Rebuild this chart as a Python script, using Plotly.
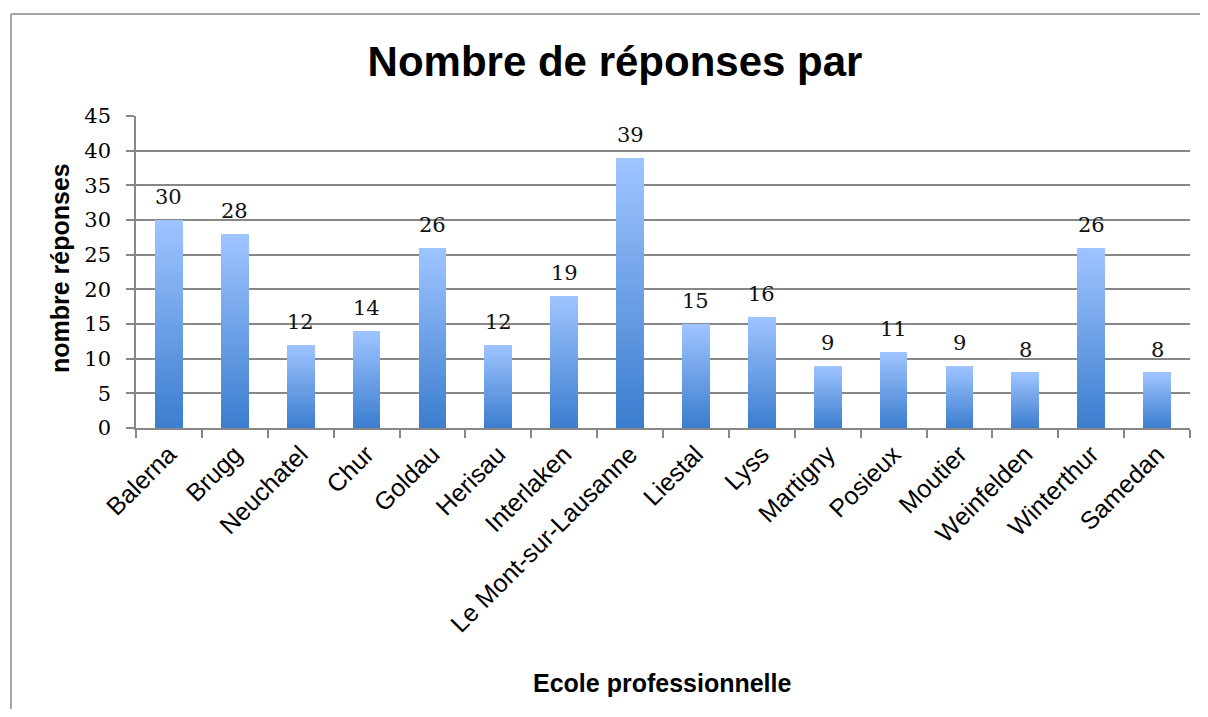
import plotly.graph_objects as go

categories = ["Balerna", "Brugg", "Neuchatel", "Chur", "Goldau", "Herisau", "Interlaken",
              "Le Mont-sur-Lausanne", "Liestal", "Lyss", "Martigny", "Posieux", "Moutier",
              "Weinfelden", "Winterthur", "Samedan"]
values = [30, 28, 12, 14, 26, 12, 19, 39, 15, 16, 9, 11, 9, 8, 26, 8]
y_ticks = [0, 5, 10, 15, 20, 25, 30, 35, 40, 45]

title_text = "Nombre de réponses par"
x_title = "Ecole professionnelle"
y_title = "nombre réponses"

# Figure geometry (page body adds an 8px offset)
W, H = 1192, 701
L, R, T, B = 128, 10, 108, 281
pw, ph = W - L - R, H - T - B


def px_x(fx):
    return (fx - L) / pw


def px_y(fy):
    return (H - B - fy) / ph


fig = go.Figure()

# Gradient bars: each bar drawn as a stack of equal slices, dark at bottom, light at top
N = 40
c_bot = (60, 126, 207)
c_top = (158, 196, 255)
for k in range(N):
    t = k / (N - 1)
    col = tuple(round(c_bot[i] + (c_top[i] - c_bot[i]) * t) for i in range(3))
    fig.add_trace(go.Bar(
        x=categories, y=[v / N for v in values],
        marker=dict(color="rgb(%d,%d,%d)" % col, line=dict(width=0)),
        showlegend=False, hoverinfo="skip",
    ))

annotations = []
for c, v in zip(categories, values):
    annotations.append(dict(x=c, y=v, xref="x", yref="y", text=str(v), showarrow=False,
                            yanchor="bottom", yshift=9,
                            font=dict(family="DejaVu Serif", size=21, color="#111111")))

# Axis titles
annotations.append(dict(x=px_x(654), y=px_y(675), xref="paper", yref="paper",
                        text="<b>" + x_title + "</b>", showarrow=False,
                        xanchor="center", yanchor="middle",
                        font=dict(family="Liberation Sans", size=25, color="black")))
annotations.append(dict(x=px_x(52), y=px_y(260), xref="paper", yref="paper",
                        text="<b>" + y_title + "</b>", showarrow=False, textangle=-90,
                        xanchor="center", yanchor="middle",
                        font=dict(family="Liberation Sans", size=25, color="black")))

grid = "#878787"
fig.update_layout(
    width=W, height=H,
    margin=dict(l=L, r=R, t=T, b=B),
    paper_bgcolor="white", plot_bgcolor="white",
    barmode="stack", bargap=0.58,
    title=dict(text="<b>" + title_text + "</b>", x=607 / W, xanchor="center",
               y=1 - 53 / H, yanchor="middle",
               font=dict(family="Liberation Sans", size=42, color="black")),
    font=dict(family="Liberation Sans", color="black"),
    annotations=annotations,
)
fig.update_xaxes(
    type="category", tickangle=-45, tickson="boundaries",
    ticks="outside", ticklen=8, tickcolor=grid, tickwidth=1.5,
    showline=True, linecolor=grid, linewidth=1.5, showgrid=False,
    tickfont=dict(family="Liberation Sans", size=25, color="black"),
)
fig.update_yaxes(
    range=[0, 45], tickvals=y_ticks, ticktext=[str(v) for v in y_ticks],
    ticks="outside", ticklen=8, tickcolor=grid, tickwidth=1.5, ticklabelstandoff=11,
    showline=True, linecolor=grid, linewidth=1.5,
    showgrid=True, gridcolor=grid, gridwidth=1.5, zeroline=False,
    tickfont=dict(family="DejaVu Serif", size=21, color="black"),
)

# Outer chart frame (left and top edges visible in the source figure)
frame = dict(color="#a6a6a6", width=2)
fig.add_shape(type="line", xref="paper", yref="paper",
              x0=px_x(3), x1=px_x(3), y0=px_y(H + 10), y1=px_y(6), line=frame, layer="below")
fig.add_shape(type="line", xref="paper", yref="paper",
              x0=px_x(3), x1=px_x(W + 10), y0=px_y(6), y1=px_y(6), line=frame, layer="below")

fig.write_html("out.html", config={"displayModeBar": False})
